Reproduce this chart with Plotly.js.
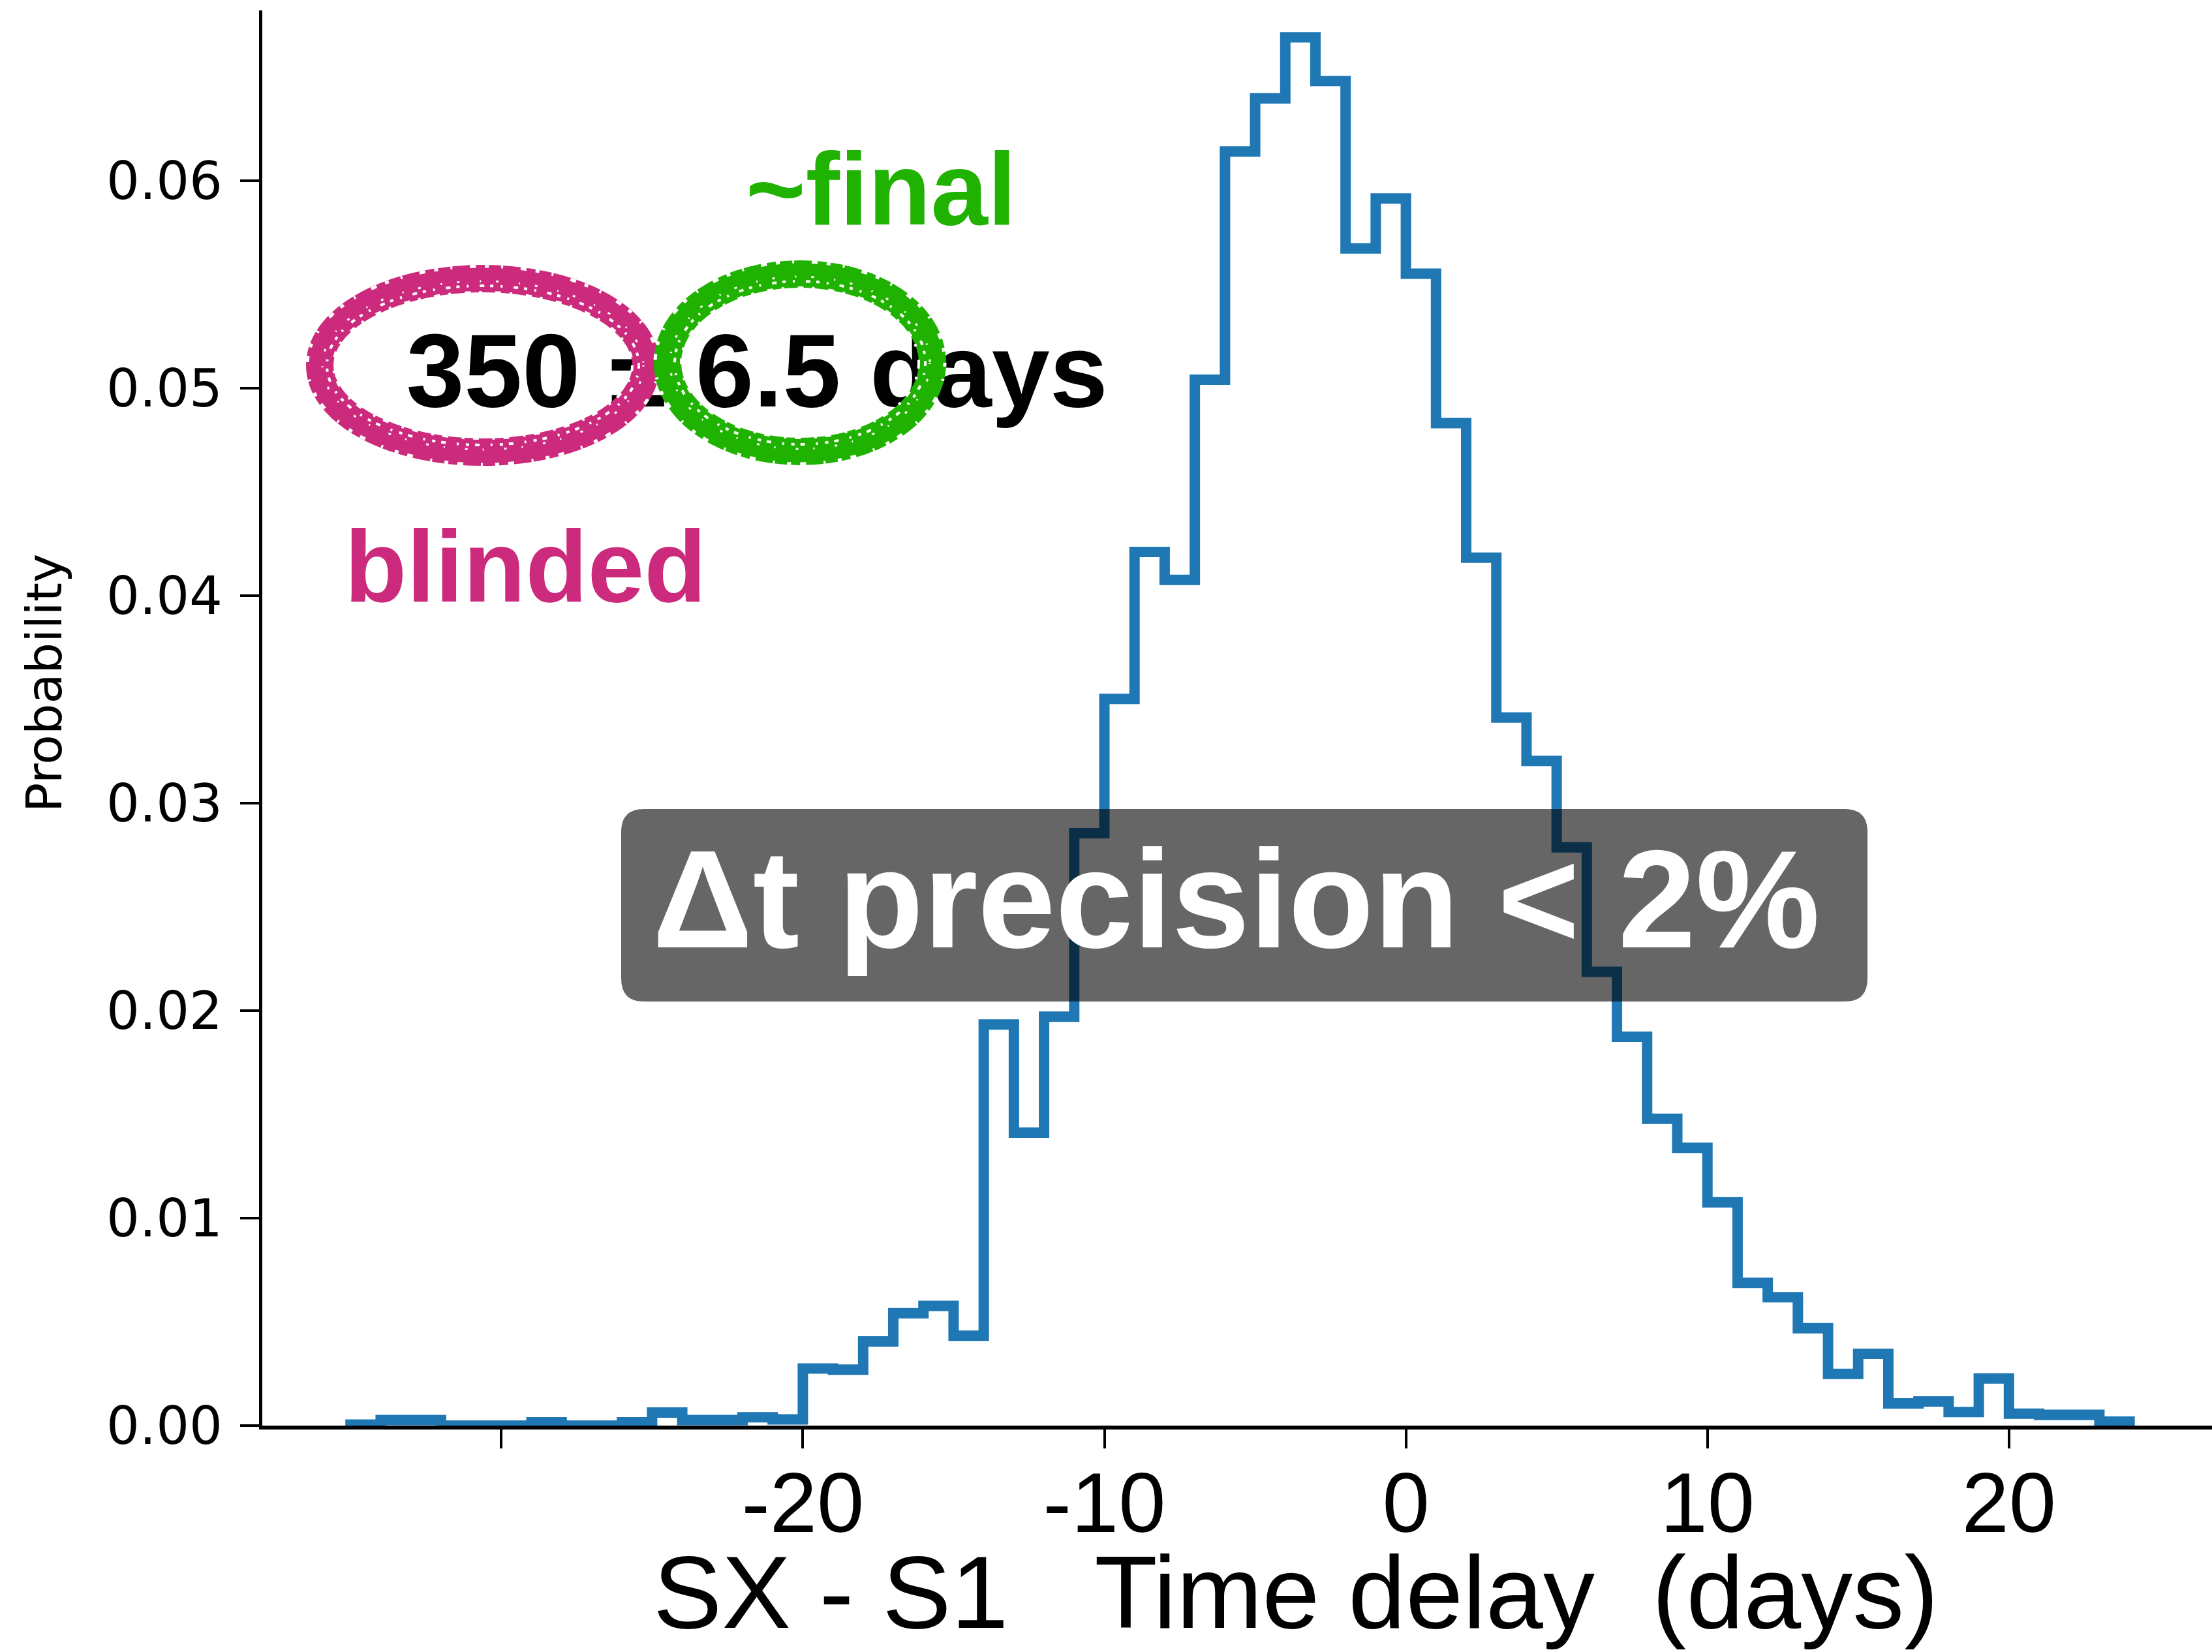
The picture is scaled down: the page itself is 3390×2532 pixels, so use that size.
<!DOCTYPE html>
<html>
<head>
<meta charset="utf-8">
<script src="https://cdn.plot.ly/plotly-3.0.1.min.js"></script>
<style>html,body{margin:0;padding:0;background:#fff;}#chart{width:3390px;height:2532px;}</style>
</head>
<body>
<div id="chart"></div>
<script>
// ---- data ----
const binEdges = [-35,-34,-33,-32,-31,-30,-29,-28,-27,-26,-25,-24,-23,-22,-21,-20,-19,-18,-17,-16,-15,-14,-13,-12,-11,-10,-9,-8,-7,-6,-5,-4,-3,-2,-1,0,1,2,3,4,5,6,7,8,9,10,11,12,13,14,15,16,17,18,19,20,21,22,23,24];
const probability = [
  0.00005,0.00027,0.00027,0,0,0,0.00016,0,0,0.00016,
  0.00063,0.00027,0.00027,0.0004,0.0003,0.00275,0.0027,0.00406,0.00542,0.00577,
  0.00433,0.01933,0.01412,0.01971,0.02855,0.03502,0.04211,0.04076,0.05041,0.06141,
  0.06397,0.06691,0.0648,0.05674,0.05914,0.05552,0.04832,0.04183,0.03413,0.03204,
  0.02787,0.02187,0.01874,0.01479,0.01339,0.01076,0.00688,0.00619,0.00469,0.00249,
  0.00346,0.00107,0.00116,0.00065,0.00227,0.00057,0.00052,0.00052,0.0002
];
const yTickVals = [0, 0.01, 0.02, 0.03, 0.04, 0.05, 0.06];
const yTickText = ['0.00', '0.01', '0.02', '0.03', '0.04', '0.05', '0.06'];
const xTickVals = [-30, -20, -10, 0, 10, 20];
const xTickText = ['', '-20', '-10', '0', '10', '20'];
const xTitle = 'SX - S1\u00a0\u00a0\u00a0Time delay\u00a0\u00a0(days)';
const yTitle = 'Probability';
const mainText = '350 ± 6.5 days';
const finalText = '~final';
const blindedText = 'blinded';
const boxText = 'Δt precision &lt; 2%';

// ---- step outline built from the histogram arrays ----
const stepX = [binEdges[0]];
const stepY = [0];
for (let i = 0; i < probability.length; i++) {
  stepX.push(binEdges[i]);
  stepY.push(probability[i]);
}
stepX.push(binEdges[binEdges.length - 1]);
stepY.push(0);

// ---- geometry (pixels) ----
const W = 3390, H = 2532;
const L = 402, R = 0, T = 16, B = 347;
const plotW = W - L - R, plotH = H - T - B;
const bottomPx = H - B;
const X0PX = 2154.6, PX_PER_DAY = 46.21, PX_PER_UNIT = 31800;
const px = v => (v - L) / plotW;
const py = v => (bottomPx - v) / plotH;
const dataX = v => (v - X0PX) / PX_PER_DAY;
const dataY = v => (bottomPx - v) / PX_PER_UNIT;

const magenta = 'rgb(204,42,124)';
const green = 'rgb(32,178,0)';
const boldFont = 'Liberation Sans, Arial, Helvetica, sans-serif';

function roundRect(x0, y0, x1, y1, r) {
  const rx = r / plotW, ry = r / plotH;
  const a = px(x0), b = px(x1), top = py(y0), bot = py(y1);
  return `M ${a + rx} ${top} L ${b - rx} ${top} Q ${b} ${top} ${b} ${top - ry} ` +
         `L ${b} ${bot + ry} Q ${b} ${bot} ${b - rx} ${bot} L ${a + rx} ${bot} ` +
         `Q ${a} ${bot} ${a} ${bot + ry} L ${a} ${top - ry} Q ${a} ${top} ${a + rx} ${top} Z`;
}

// hand-drawn looking ring: solid stroke plus white speckle strokes
function ring(cx, cy, rx, ry, color) {
  const e = (d, c, w, dash) => ({
    type: 'circle', xref: 'paper', yref: 'paper', layer: 'above',
    x0: px(cx - rx - d), x1: px(cx + rx + d), y0: py(cy + ry + d), y1: py(cy - ry - d),
    line: {color: c, width: w, dash: dash}
  });
  return [
    e(0, color, 42, 'solid'),
    e(-11, '#fff', 4, '5px,11px,3px,17px,7px,9px'),
    e(-4, '#fff', 3, '2px,23px,4px,31px'),
    e(19, '#fff', 5, '6px,19px,3px,27px,9px,14px'),
    e(-21, '#fff', 4, '9px,13px,4px,21px')
  ];
}

const trace = {
  type: 'scatter', mode: 'lines',
  x: stepX, y: stepY,
  line: {shape: 'hv', color: '#1f77b4', width: 16},
  hoverinfo: 'skip', showlegend: false
};

// headline label drawn as text in the plot so the rings can sit on top of it
const labelTrace = {
  type: 'scatter', mode: 'text',
  x: [dataX(1160)], y: [dataY(583)],
  text: [mainText], textposition: 'middle center',
  textfont: {family: boldFont, size: 160, color: '#000', weight: 'bold'},
  cliponaxis: false, hoverinfo: 'skip', showlegend: false
};

const layout = {
  width: W, height: H,
  margin: {l: L, r: R, t: T, b: B, pad: 0},
  paper_bgcolor: '#ffffff', plot_bgcolor: '#ffffff',
  showlegend: false,
  xaxis: {
    range: [dataX(L), dataX(W)],
    showgrid: false, zeroline: false,
    showline: true, linecolor: '#000', linewidth: 6,
    ticks: 'outside', ticklen: 29, tickwidth: 4, tickcolor: '#000',
    tickmode: 'array', tickvals: xTickVals, ticktext: xTickText,
    ticklabelstandoff: -28,
    tickfont: {family: 'Liberation Sans, Arial, sans-serif', size: 130, color: '#000'}
  },
  yaxis: {
    range: [0, plotH / PX_PER_UNIT],
    showgrid: false, zeroline: false,
    showline: true, linecolor: '#000', linewidth: 5,
    ticks: 'outside', ticklen: 29, tickwidth: 4, tickcolor: '#000',
    tickmode: 'array', tickvals: yTickVals, ticktext: yTickText,
    ticklabelstandoff: 11,
    tickfont: {family: 'DejaVu Sans, sans-serif', size: 80, color: '#000'}
  },
  shapes: [
    ...ring(740, 560, 250, 133, magenta),
    ...ring(1226, 556, 203, 136, green),
    {type: 'path', xref: 'paper', yref: 'paper', layer: 'above',
     path: roundRect(952, 1240, 2862, 1535, 35),
     fillcolor: 'rgba(0,0,0,0.6)', line: {width: 0}}
  ],
  annotations: [
    {xref: 'paper', yref: 'paper', x: px(1350), y: py(289), xanchor: 'center', yanchor: 'middle',
     text: '<b>' + finalText + '</b>', showarrow: false,
     font: {family: boldFont, size: 157, color: green}},
    {xref: 'paper', yref: 'paper', x: px(805), y: py(868), xanchor: 'center', yanchor: 'middle',
     text: '<b>' + blindedText + '</b>', showarrow: false,
     font: {family: boldFont, size: 156, color: magenta}},
    {xref: 'paper', yref: 'paper', x: px(1894), y: py(1377), xanchor: 'center', yanchor: 'middle',
     text: '<b>' + boxText + '</b>', showarrow: false,
     font: {family: boldFont, size: 214, color: '#fff'}},
    {xref: 'paper', yref: 'paper', x: px(1986), y: py(2440), xanchor: 'center', yanchor: 'middle',
     text: xTitle, showarrow: false,
     font: {family: 'Liberation Sans, Arial, sans-serif', size: 158, color: '#000'}},
    {xref: 'paper', yref: 'paper', x: px(68), y: py(1047), xanchor: 'center', yanchor: 'middle',
     text: yTitle, textangle: -90, showarrow: false,
     font: {family: 'DejaVu Sans, sans-serif', size: 75, color: '#000'}}
  ]
};

Plotly.newPlot('chart', [trace, labelTrace], layout, {staticPlot: true, displayModeBar: false});
</script>
</body>
</html>
